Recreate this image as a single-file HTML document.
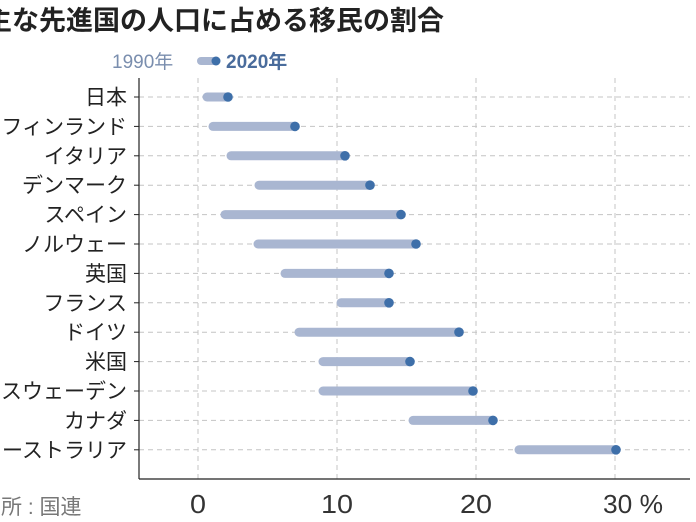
<!DOCTYPE html>
<html><head><meta charset="utf-8"><style>
body{margin:0;width:696px;height:522px;background:#fff;overflow:hidden;position:relative;font-family:"Liberation Sans","Noto Sans CJK JP",sans-serif}
</style></head><body>
<svg width="696" height="522" style="position:absolute;left:0;top:0" font-family="Liberation Sans, Noto Sans CJK JP, sans-serif">
<text x="-15" y="30" font-size="27" font-weight="bold" fill="#222">主な先進国の人口に占める移民の割合</text>
<text x="112" y="68" font-size="19" fill="#7a8eae">1990年</text>
<line x1="201" y1="61" x2="214" y2="61" stroke="#a9b6d1" stroke-width="8" stroke-linecap="round"/>
<circle cx="216" cy="61" r="4.5" fill="#3e6fa9"/>
<text x="226" y="68" font-size="19" font-weight="bold" fill="#4a6c9c">2020年</text>
<g stroke="#c4c4c4" stroke-dasharray="5,4" stroke-width="1">
<line x1="198" y1="78" x2="198" y2="479"/><line x1="337" y1="78" x2="337" y2="479"/><line x1="476" y1="78" x2="476" y2="479"/><line x1="615" y1="78" x2="615" y2="479"/>
</g>
<g id="rows"></g>
<line x1="139" y1="78" x2="139" y2="479" stroke="#222" stroke-width="1.2"/>
<line x1="139" y1="479" x2="690" y2="479" stroke="#222" stroke-width="1.2"/>
<g font-size="26" fill="#333" text-anchor="middle">
<text x="198" y="513" textLength="16" lengthAdjust="spacingAndGlyphs">0</text><text x="337" y="513" textLength="32" lengthAdjust="spacingAndGlyphs">10</text><text x="476" y="513" textLength="32" lengthAdjust="spacingAndGlyphs">20</text><text x="633" y="513" textLength="60" lengthAdjust="spacingAndGlyphs">30 %</text>
</g>
<text x="-20" y="514" font-size="21" fill="#777">出所 : 国連</text>
</svg>
<script>
var d=[["日本",207,228],["フィンランド",213,295],["イタリア",231,345],["デンマーク",259,370],["スペイン",225,401],["ノルウェー",258,416],["英国",285,389],["フランス",341,389],["ドイツ",299,459],["米国",323,410],["スウェーデン",323,473],["カナダ",413,493],["オーストラリア",519,616]];
var g=document.getElementById('rows'),s='';
d.forEach(function(r,i){var y=97+i*29.4;
s+='<line x1="139" y1="'+y+'" x2="690" y2="'+y+'" stroke="#c4c4c4" stroke-dasharray="5,4"/>';
s+='<line x1="134" y1="'+y+'" x2="139" y2="'+y+'" stroke="#222"/>';
s+='<text x="127" y="'+(y+7.5)+'" font-size="21" fill="#222" text-anchor="end">'+r[0]+'</text>';
s+='<line x1="'+r[1]+'" y1="'+y+'" x2="'+r[2]+'" y2="'+y+'" stroke="#a9b6d1" stroke-width="9" stroke-linecap="round"/>';
s+='<circle cx="'+r[2]+'" cy="'+y+'" r="4.8" fill="#3e6fa9"/>';});
g.innerHTML=s;
</script>
</body></html>
